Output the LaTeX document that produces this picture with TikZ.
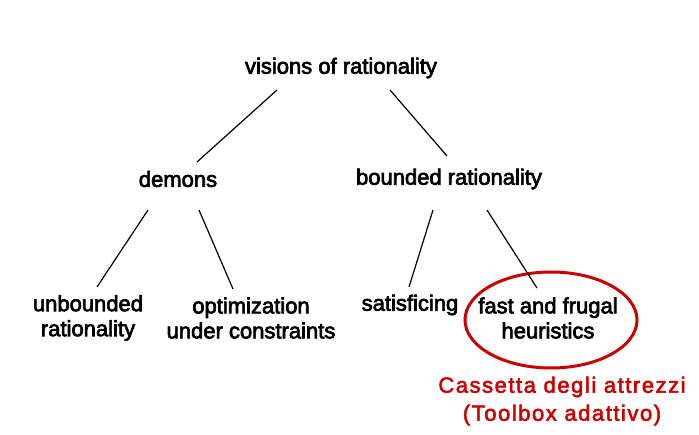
\documentclass[tikz,border=0pt]{standalone}
\usepackage{fontspec}
\setmainfont{Liberation Sans}
\newfontface\heavyfont{Liberation Sans}[FakeBold=3]
\newfontface\redfont{Liberation Sans}[LetterSpace=7.0,FakeBold=2.5]
\definecolor{redc}{RGB}{204,0,0}
\begin{document}
\begin{tikzpicture}[x=1pt,y=-1pt,
  lbl/.style={inner sep=0pt, align=center, font=\fontsize{22}{25}\heavyfont},
  red lbl/.style={inner sep=0pt, align=center, text=redc, font=\fontsize{22}{28}\redfont},
  conn/.style={line width=1.2pt, black}]
\useasboundingbox (0,0) rectangle (699,435);
\node[lbl] (vis) at (341,68) {visions of rationality};
\node[lbl] (dem) at (178,179) {demons};
\node[lbl] (bnd) at (449,179) {bounded rationality};
\node[lbl] (unb) at (88,318) {unbounded\\rationality};
\node[lbl] (opt) at (251,318) {optimization\\under constraints};
\node[lbl] (sat) at (410,305) {satisficing};
\node[lbl] (ffh) at (548,318) {fast and frugal\\heuristics};
\draw[draw=redc, line width=3pt] (551,320) ellipse [x radius=86, y radius=48];
\node[red lbl] (tool) at (562,401) {Cassetta degli attrezzi\\(Toolbox adattivo)};
\coordinate (a1) at (277,90); \coordinate (a2) at (197,162);
\coordinate (b1) at (390,90); \coordinate (b2) at (447,156);
\coordinate (c1) at (148,210); \coordinate (c2) at (97,287);
\coordinate (d1) at (199,210); \coordinate (d2) at (233,289);
\coordinate (e1) at (433,210); \coordinate (e2) at (409,287);
\coordinate (f1) at (487,210); \coordinate (f2) at (537,288);
\draw[conn] (a1) -- (a2);
\draw[conn] (b1) -- (b2);
\draw[conn] (c1) -- (c2);
\draw[conn] (d1) -- (d2);
\draw[conn] (e1) -- (e2);
\draw[conn] (f1) -- (f2);
\end{tikzpicture}
\end{document}
